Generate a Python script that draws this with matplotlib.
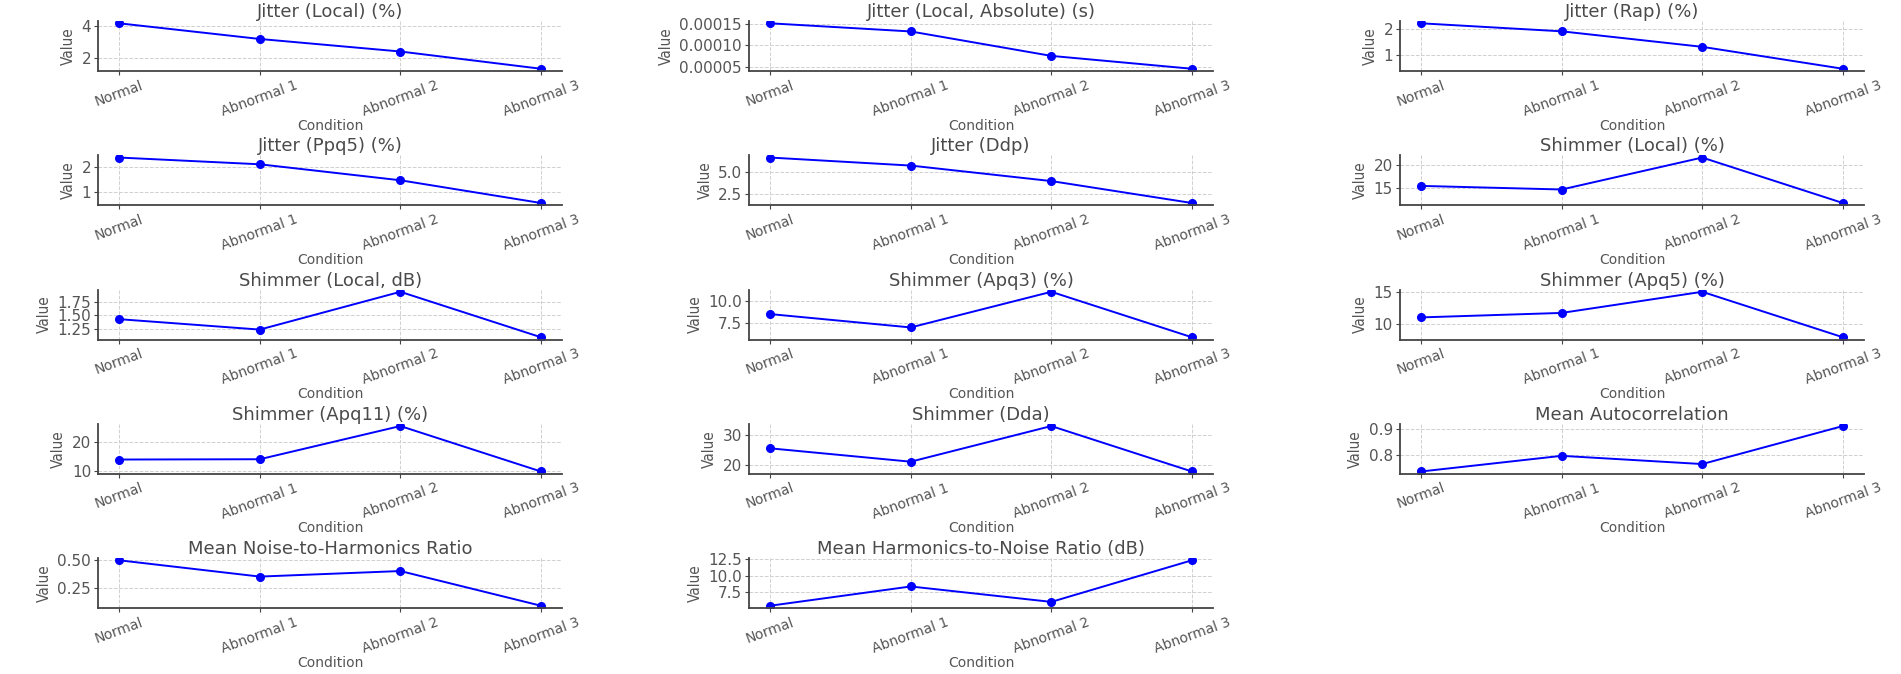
import matplotlib
matplotlib.use("Agg")
import matplotlib.pyplot as plt

# conditions on the x axis
conditions = ["Normal", "Abnormal 1", "Abnormal 2", "Abnormal 3"]

# one list of values per voice measure
jitter_local = [4.2, 3.2, 2.4, 1.3]
jitter_local_abs = [0.000151, 0.000132, 0.000075, 0.000045]
jitter_rap = [2.2, 1.9, 1.32, 0.5]
jitter_ppq5 = [2.36, 2.09, 1.45, 0.54]
jitter_ddp = [6.6, 5.7, 3.96, 1.5]
shimmer_local = [15.4, 14.6, 21.7, 11.6]
shimmer_local_db = [1.43, 1.24, 1.93, 1.1]
shimmer_apq3 = [8.5, 7.0, 11.0, 5.9]
shimmer_apq5 = [11.0, 11.7, 15.0, 7.9]
shimmer_apq11 = [14.0, 14.1, 25.2, 10.0]
shimmer_dda = [25.5, 21.0, 33.0, 17.7]
mean_autocorr = [0.735, 0.796, 0.764, 0.912]
mean_nhr = [0.50, 0.353, 0.403, 0.09]
mean_hnr = [5.46, 8.36, 6.04, 12.3]

titles = [
    "Jitter (Local) (%)", "Jitter (Local, Absolute) (s)", "Jitter (Rap) (%)",
    "Jitter (Ppq5) (%)", "Jitter (Ddp)", "Shimmer (Local) (%)",
    "Shimmer (Local, dB)", "Shimmer (Apq3) (%)", "Shimmer (Apq5) (%)",
    "Shimmer (Apq11) (%)", "Shimmer (Dda)", "Mean Autocorrelation",
    "Mean Noise-to-Harmonics Ratio", "Mean Harmonics-to-Noise Ratio (dB)",
]
series = [
    jitter_local, jitter_local_abs, jitter_rap,
    jitter_ppq5, jitter_ddp, shimmer_local,
    shimmer_local_db, shimmer_apq3, shimmer_apq5,
    shimmer_apq11, shimmer_dda, mean_autocorr,
    mean_nhr, mean_hnr,
]

plt.rcParams.update({
    "font.family": "DejaVu Sans",
    "axes.spines.top": False,
    "axes.spines.right": False,
    "axes.edgecolor": "#444444",
    "axes.linewidth": 1.3,
    "axes.grid": True,
    "grid.color": "#d0d0d0",
    "grid.linestyle": "--",
    "grid.linewidth": 0.7,
    "xtick.color": "#444444",
    "ytick.color": "#444444",
    "xtick.labelcolor": "#555555",
    "ytick.labelcolor": "#555555",
    "xtick.major.size": 3,
    "ytick.major.size": 3,
})

fig, axes = plt.subplots(5, 3, figsize=(19.01, 6.74), dpi=100)
fig.subplots_adjust(left=0.0516, right=0.9805, top=0.9688, bottom=0.0979,
                    wspace=0.403, hspace=1.685)

for i, ax in enumerate(axes.flat):
    if i >= len(series):
        ax.remove()
        continue
    ax.plot(conditions, series[i], marker="o", color="#0000ff",
            linewidth=1.4, markersize=5.5)
    ax.set_title(titles[i], fontsize=13, color="#4a4a4a", pad=2)
    ax.set_xlabel("Condition", fontsize=10, color="#555555", labelpad=0)
    ax.set_ylabel("Value", fontsize=11, color="#555555",
                  fontstretch="condensed", labelpad=4)
    ax.tick_params(axis="x", labelrotation=20, labelsize=10, pad=2)
    ax.tick_params(axis="y", labelsize=11, pad=2)

fig.savefig("out.png", dpi=100)
